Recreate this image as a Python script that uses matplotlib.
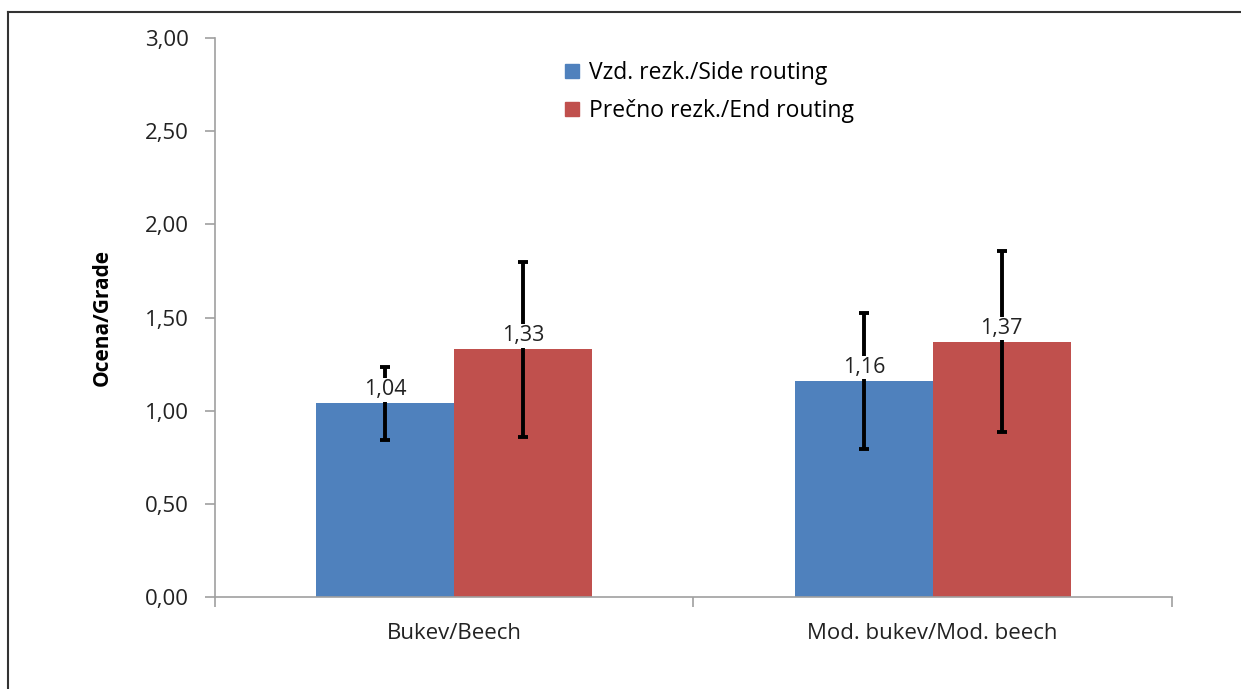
import numpy as np
import matplotlib
matplotlib.use("Agg")
import matplotlib.pyplot as plt
from matplotlib.lines import Line2D

plt.rcParams['font.family'] = ['Open Sans', 'DejaVu Sans']

# data
categories = ["Bukev/Beech", "Mod. bukev/Mod. beech"]
series_names = ["Vzd. rezk./Side routing", "Prečno rezk./End routing"]
side = [1.04, 1.16]
end = [1.33, 1.37]
side_err = [0.195, 0.365]
end_err = [0.47, 0.485]
colors = ["#4F81BD", "#C0504D"]

fig = plt.figure(figsize=(12.41, 6.89), dpi=100)
ax = fig.add_axes([0.1732, 0.1335, 0.7712, 0.8113])

x = np.arange(len(categories))
w = 0.288
for i, (vals, errs) in enumerate([(side, side_err), (end, end_err)]):
    pos = x + (i - 0.5) * w
    ax.bar(pos, vals, width=w, color=colors[i], label=series_names[i], zorder=2)
    ax.errorbar(pos, vals, yerr=errs, fmt='none', ecolor='black', elinewidth=2.8,
                capsize=3.5, capthick=2.8, zorder=3)
    for px, v in zip(pos, vals):
        ax.annotate(f"{v:.2f}".replace('.', ','), (px, v), xytext=(0, 2),
                    textcoords='offset points', ha='center', va='bottom',
                    fontsize=15.5, color='#222222', zorder=4,
                    bbox=dict(boxstyle='square,pad=0.05', fc='white', ec='none'))

ax.set_xlim(-0.5, 1.5)
ax.set_ylim(0, 3)
ax.set_yticks(np.arange(0, 3.01, 0.5))
ax.set_yticklabels([f"{t:.2f}".replace('.', ',') for t in np.arange(0, 3.01, 0.5)])
ax.set_xticks(x)
ax.set_xticklabels(categories)
ax.set_xticks([-0.5, 0.5, 1.5], minor=True)
ax.tick_params(axis='x', which='major', length=0, pad=19, labelsize=16, labelcolor='#222222')
ax.tick_params(axis='x', which='minor', length=7, color='#a0a0a0', width=1.2)
ax.tick_params(axis='y', length=7, color='#a0a0a0', width=1.2, pad=12,
               labelsize=16, labelcolor='#222222')
for s in ['top', 'right']:
    ax.spines[s].set_visible(False)
for s in ['left', 'bottom']:
    ax.spines[s].set_color('#a0a0a0')
    ax.spines[s].set_linewidth(1.2)

ax.set_ylabel("Ocena/Grade", fontsize=15, fontweight='bold', labelpad=23)

handles = [Line2D([], [], marker='s', linestyle='none', markersize=10,
                  markerfacecolor=c, markeredgecolor=c) for c in colors]
fig.legend(handles, series_names, loc='upper left', bbox_to_anchor=(0.437, 0.942),
           frameon=False, fontsize=16.5, handletextpad=0.35, labelspacing=0.62,
           handlelength=0.8)

# outer frame (left and top only)
fig.add_artist(Line2D([8 / 1241, 8 / 1241], [0, 1 - 12 / 689], transform=fig.transFigure,
                      color='#333333', linewidth=1.5))
fig.add_artist(Line2D([8 / 1241, 1], [1 - 12 / 689, 1 - 12 / 689], transform=fig.transFigure,
                      color='#333333', linewidth=1.5))

fig.savefig("out.png", dpi=100, facecolor='white')
